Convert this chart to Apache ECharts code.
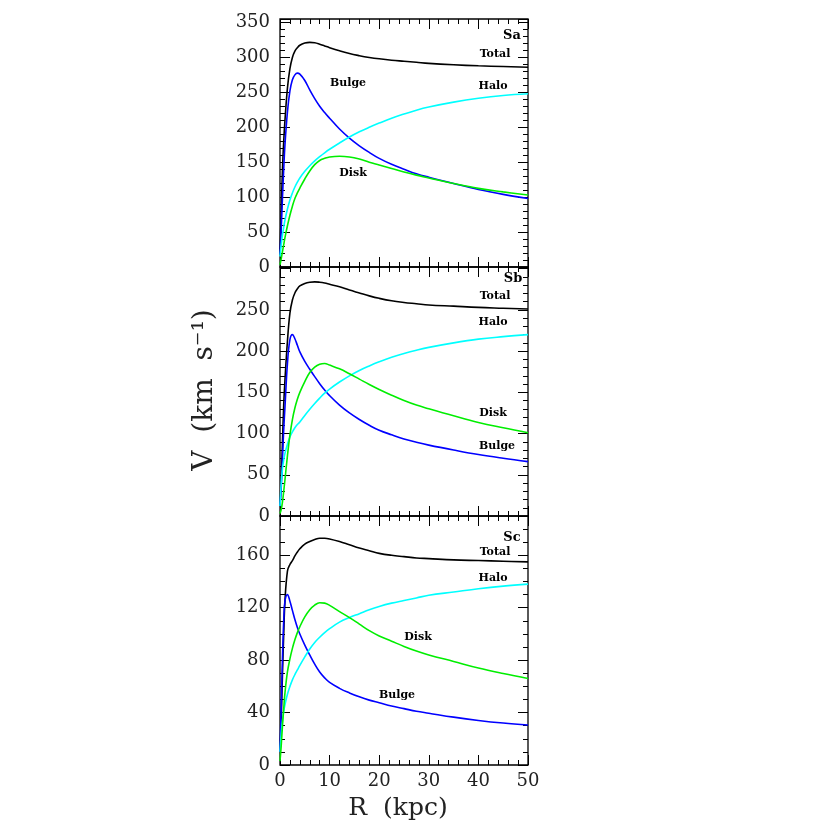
<!DOCTYPE html>
<html>
<head>
<meta charset="utf-8">
<script src="https://cdn.jsdelivr.net/npm/echarts@6/dist/echarts.min.js"></script>
<style>
  html, body { margin: 0; padding: 0; background: #fff; }
  #chart { width: 830px; height: 830px; }
</style>
</head>
<body>
<div id="chart"></div>
<script>
// radius in kpc, shared by every curve
const radius = [0, 0.25, 0.5, 0.75, 1, 1.5, 2, 2.5, 3, 3.5, 4, 5, 6, 7, 8, 9, 10, 12, 14, 16, 18, 20, 22.5, 25, 27.5, 30, 35, 40, 45, 50];

// Sa
const saTotal = [18, 80, 140, 180, 210, 256, 284, 300, 309, 314, 317.5, 320.5, 321.5, 321, 319, 316.5, 314, 309.5, 305.5, 302.5, 300, 298, 296, 294.5, 293, 291.5, 289.5, 288, 287, 286];
const saBulge = [18, 55, 100, 140, 175, 222, 252, 268, 275, 277.5, 276, 267, 253.5, 241, 230, 221, 213, 197.5, 184.5, 173.5, 164, 155.5, 147, 140, 133.5, 128.5, 119.5, 111, 104, 98];
const saHalo  = [15, 32, 46, 57, 67, 83, 96, 106, 114.5, 121.5, 127.5, 137, 145, 152, 158, 163.5, 168.5, 177.5, 186, 193.5, 200, 206, 213, 219, 224.5, 229, 236, 241.5, 245.5, 248];
const saDisk  = [3, 12, 22, 32, 42, 59, 74, 87, 98, 106, 113, 126, 137.5, 146.5, 152.5, 155.5, 157.5, 158.5, 157.5, 154.5, 150, 146, 141, 136, 131.5, 127.5, 119.5, 112.5, 107.5, 103];

// Sb
const sbTotal = [12, 45, 90, 135, 165, 212, 246, 262, 270.5, 275.5, 279, 282, 283.5, 284, 283.5, 282.5, 281, 278, 274, 270.5, 267, 264, 261, 259, 257.5, 256, 254.5, 253, 252, 251];
const sbBulge = [12, 35, 70, 105, 132, 185, 214, 220, 215, 207, 199, 187.5, 178, 169, 160.5, 152.8, 146, 134.5, 125, 117, 110, 104, 98.5, 93.5, 89.5, 86, 80, 74.5, 70, 66];
const sbHalo  = [12, 40, 58, 68, 76, 87, 96, 102, 107, 111, 114, 122, 129.5, 136.5, 143, 149, 154, 162.5, 170, 176.5, 182, 187, 192.5, 197, 201, 204.5, 210, 214.5, 217.5, 220];
const sbDisk  = [3, 8, 17, 30, 44, 73, 98, 117, 131, 141.5, 150, 163, 174, 180.5, 184, 185, 183, 178.5, 172.5, 166, 159.5, 153.5, 146.5, 140, 134.5, 130, 121.5, 113.5, 107, 101];

// Sc
const scTotal = [10, 35, 70, 100, 125, 148, 153, 156, 159.5, 162.5, 165, 168.5, 170.5, 172, 173, 173, 172.5, 170.5, 168, 165.5, 163.5, 161.5, 160, 159, 158, 157.5, 156.5, 156, 155.5, 155];
const scBulge = [10, 45, 82, 110, 125, 130, 125, 118, 111, 105, 100, 91.5, 84, 77, 71, 66.5, 63, 58.5, 55, 52, 49.5, 47.5, 45, 43, 41, 39.5, 36.5, 34, 32, 30.5];
const scHalo  = [10, 24, 34, 41, 46, 54, 60, 65, 69, 72.5, 76, 82.5, 88.5, 93.5, 97.5, 101, 104, 109, 112.5, 115.5, 118.5, 121, 123.5, 125.5, 127.5, 129.5, 132, 134.5, 136.5, 138];
const scDisk  = [3, 15, 30, 43, 55, 71, 81, 89, 95.5, 101, 105.5, 113, 118.5, 122, 123.8, 123.5, 121.8, 117, 112.5, 107.5, 102.5, 98.5, 94.5, 90.5, 87, 84, 79, 74, 69.8, 66];

// labelled ticks
const saTicks = [0, 50, 100, 150, 200, 250, 300, 350];
const sbTicks = [0, 50, 100, 150, 200, 250];
const scTicks = [0, 40, 80, 120, 160];
const rTicks = [0, 10, 20, 30, 40, 50];

const componentNames = ['Total', 'Bulge', 'Halo', 'Disk'];
const componentColors = ['#000000', '#0000ff', '#00ffff', '#00ee00'];
const typeNames = ['Sa', 'Sb', 'Sc'];

const panels = [
  { top: 19,  height: 248, max: 355, step: 50, ticks: saTicks, curves: [saTotal, saBulge, saHalo, saDisk],
    tags: [[512, 36], [495, 54], [348, 83], [493, 86], [353, 173]] },
  { top: 267, height: 249, max: 302, step: 50, ticks: sbTicks, curves: [sbTotal, sbBulge, sbHalo, sbDisk],
    tags: [[513, 279], [495, 296], [497, 446], [493, 322], [493, 413]] },
  { top: 516, height: 249, max: 190, step: 40, ticks: scTicks, curves: [scTotal, scBulge, scHalo, scDisk],
    tags: [[512, 538], [495, 552], [397, 695], [493, 578], [418, 637]] }
];

const tickColor = '#000';
const labelFont = 'DejaVu Serif';

var grid = [], xAxis = [], yAxis = [], series = [], graphic = [];

panels.forEach(function (p, i) {
  grid.push({
    left: 280, width: 248, top: p.top, height: p.height,
    show: true, borderColor: '#000', borderWidth: 1.3, backgroundColor: 'transparent'
  });

  // x: bottom major/minor, top major/minor
  [['bottom', 10, 10], ['bottom', 2, 5], ['top', 10, 10], ['top', 2, 5]].forEach(function (a, k) {
    xAxis.push({
      gridIndex: i, type: 'value', min: 0, max: 50, interval: a[1], position: a[0],
      axisLine: { show: false, onZero: false }, splitLine: { show: false },
      axisTick: { inside: true, length: a[2], lineStyle: { color: tickColor, width: 1 } },
      axisLabel: {
        show: i === 2 && k === 0, margin: 7, color: '#222',
        fontFamily: labelFont, fontSize: 18,
        formatter: function (v) { return rTicks.indexOf(v) >= 0 ? String(v) : ''; }
      }
    });
  });

  // y: left major/minor, right major/minor
  [['left', p.step, 10], ['left', 10, 5], ['right', p.step, 10], ['right', 10, 5]].forEach(function (a, k) {
    yAxis.push({
      gridIndex: i, type: 'value', min: 0, max: p.max, interval: a[1], position: a[0],
      axisLine: { show: false, onZero: false }, splitLine: { show: false },
      axisTick: { inside: true, length: a[2], lineStyle: { color: tickColor, width: 1 } },
      axisLabel: {
        show: k === 0, margin: 10, color: '#222',
        fontFamily: labelFont, fontSize: 18,
        formatter: function (v) { return p.ticks.indexOf(v) >= 0 ? String(v) : ''; }
      }
    });
  });

  p.curves.forEach(function (vals, c) {
    series.push({
      name: typeNames[i] + ' ' + componentNames[c],
      type: 'line', xAxisIndex: i * 4, yAxisIndex: i * 4,
      data: radius.map(function (r, j) { return [r, vals[j]]; }),
      showSymbol: false, smooth: 0.4,
      lineStyle: { color: componentColors[c], width: 1.6 },
      z: 3
    });
  });

  // panel tags: type then component names
  var texts = [typeNames[i]].concat(componentNames);
  texts.forEach(function (t, k) {
    graphic.push({
      type: 'text', x: p.tags[k][0], y: p.tags[k][1], z: 10,
      style: {
        text: t, fill: '#000', align: 'center', verticalAlign: 'middle',
        font: 'bold ' + (k === 0 ? 13 : 11) + 'px "DejaVu Serif"'
      }
    });
  });
});

graphic.push({
  type: 'text', x: 205, y: 390, rotation: Math.PI / 2, z: 10,
  style: { text: 'V  (km  s\u207B\u00B9)', fill: '#222', align: 'center', verticalAlign: 'middle',
           font: '28px "DejaVu Serif"' }
});
graphic.push({
  type: 'text', x: 398, y: 808, z: 10,
  style: { text: 'R  (kpc)', fill: '#222', align: 'center', verticalAlign: 'middle',
           font: '25px "DejaVu Serif"' }
});

var myChart = echarts.init(document.getElementById('chart'));
var option = {
  animation: false,
  backgroundColor: '#fff',
  grid: grid,
  xAxis: xAxis,
  yAxis: yAxis,
  series: series,
  graphic: graphic
};
option && myChart.setOption(option);
</script>
</body>
</html>
